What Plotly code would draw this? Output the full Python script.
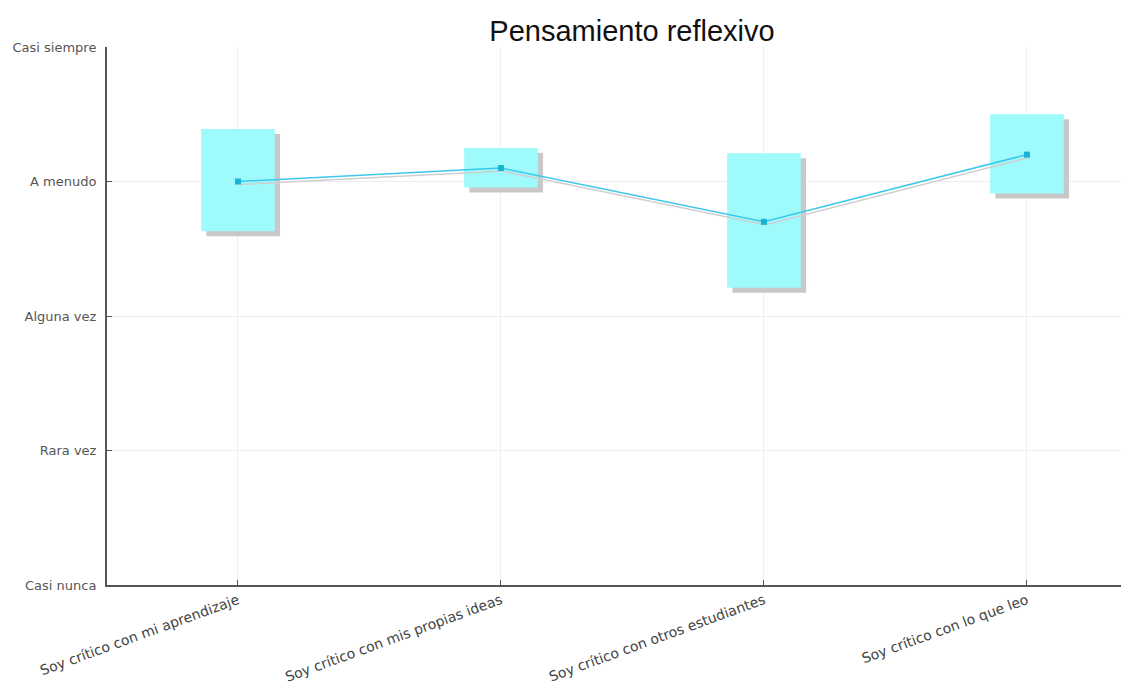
import plotly.graph_objects as go

categories = ["Soy crítico con mi aprendizaje", "Soy crítico con mis propias ideas",
              "Soy crítico con otros estudiantes", "Soy crítico con lo que leo"]
means = [4.0, 4.10, 3.70, 4.20]
lower = [3.63, 3.955, 3.21, 3.91]
upper = [4.39, 4.25, 4.21, 4.50]
level_labels = ["Casi nunca", "Rara vez", "Alguna vez", "A menudo", "Casi siempre"]
level_values = [1, 2, 3, 4, 5]

xs = list(range(len(categories)))
heights = [u - l for u, l in zip(upper, lower)]
box_w = 0.28
sdx = 0.02   # shadow offset in x (data units)
sdy = 0.037  # shadow offset in y (data units)

fig = go.Figure()
fig.add_trace(go.Bar(x=xs, y=heights, base=[l - sdy for l in lower], width=box_w,
                     offset=-box_w / 2 + sdx, marker=dict(color="#c8c8c8", line=dict(width=0)),
                     hoverinfo="skip", showlegend=False))
fig.add_trace(go.Bar(x=xs, y=heights, base=lower, width=box_w, offset=-box_w / 2,
                     marker=dict(color="#9ffafc", line=dict(width=0)),
                     showlegend=False))
fig.add_trace(go.Scatter(x=[x + sdx * 0.3 for x in xs], y=[m - sdy * 0.6 for m in means],
                         mode="lines", line=dict(color="#cfcfcf", width=1.5),
                         hoverinfo="skip", showlegend=False))
fig.add_trace(go.Scatter(x=xs, y=means, mode="lines+markers",
                         line=dict(color="#3cc8ec", width=1.5),
                         marker=dict(color="#18b4d8", size=6, symbol="square"),
                         showlegend=False))

# page body has an 8px margin, so the figure is placed 8px right/down
W, H = 1121, 681
fig.update_layout(
    width=W, height=H,
    margin=dict(l=99, r=0, t=39, b=104),
    barmode="overlay",
    plot_bgcolor="white", paper_bgcolor="white",
    title=dict(text="Pensamiento reflexivo", x=(632 - 8) / W, xanchor="center",
               y=1 - (31 - 8) / H, yanchor="middle",
               font=dict(family="Liberation Sans, Arial", size=29, color="#111")),
    font=dict(family="DejaVu Sans", size=12, color="#444"),
)
fig.update_xaxes(range=[-0.498, 3.388], tickvals=xs, ticktext=categories, tickangle=-20,
                 showgrid=True, gridcolor="#eeeeee", gridwidth=1,
                 showline=True, linecolor="#555", linewidth=2,
                 ticks="inside", ticklen=5, tickcolor="#555", zeroline=False,
                 tickfont=dict(family="DejaVu Sans", size=14, color="#444"))
fig.update_yaxes(range=[1, 5], tickvals=level_values, ticktext=level_labels,
                 showgrid=True, gridcolor="#eeeeee", gridwidth=1,
                 showline=True, linecolor="#555", linewidth=2,
                 ticks="inside", ticklen=5, tickcolor="#555", zeroline=False,
                 ticklabelstandoff=6,
                 tickfont=dict(family="DejaVu Sans", size=13, color="#555"))

fig.write_html("out.html")
